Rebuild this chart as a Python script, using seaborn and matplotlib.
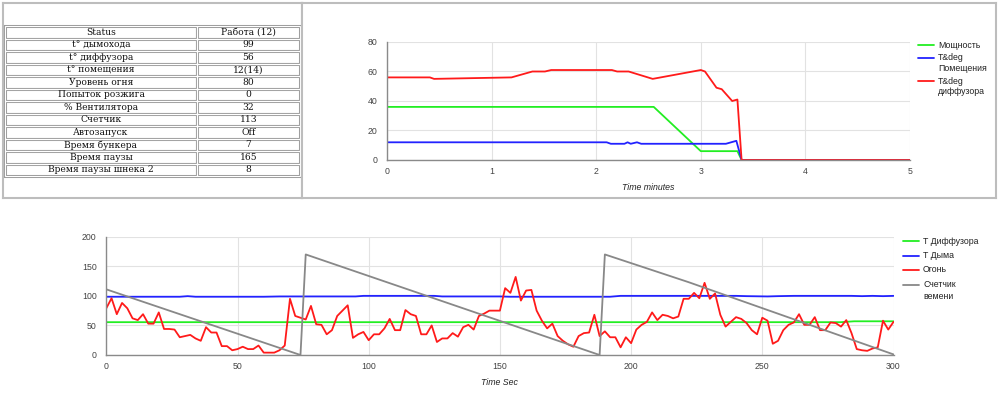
import numpy as np
import pandas as pd
import matplotlib
matplotlib.use("Agg")
import matplotlib.pyplot as plt
from matplotlib.lines import Line2D
import seaborn as sns

# status table
status_names = ["Status", "t° дымохода", "t° диффузора", "t° помещения", "Уровень огня",
                "Попыток розжига", "% Вентилятора", "Счетчик", "Автозапуск",
                "Время бункера", "Время паузы", "Время паузы шнека 2"]
status_values = ["Работа (12)", "99", "56", "12(14)", "80", "0", "32", "113", "Off",
                 "7", "165", "8"]

# top chart, time in minutes
power_t = [0, 2.55, 3.0, 3.35, 3.39, 5]
power_v = [36, 36, 6, 6, 0, 0]
room_t = [0, 2.10, 2.14, 2.27, 2.30, 2.33, 2.39, 2.43, 3.24, 3.34, 3.39, 5]
room_v = [12, 12, 11, 11, 12, 11, 12, 11, 11, 13, 0, 0]
diff_t = [0, 0.41, 0.45, 1.19, 1.39, 1.51, 1.57, 2.15, 2.2, 2.31, 2.54, 3.0, 3.04,
          3.15, 3.2, 3.3, 3.35, 3.39, 5]
diff_v = [56, 56, 55, 56, 60, 60, 61, 61, 60, 60, 55, 61, 60, 49, 48, 40, 41, 0, 0]

# bottom chart, time in seconds
sec = np.arange(0, 301, 2)
fire = [
    79, 96, 69, 88, 79, 62, 59, 69, 53, 53,
    72, 44, 44, 43, 30, 32, 34, 28, 24, 47,
    38, 38, 15, 15, 8, 10, 14, 10, 10, 16,
    4, 4, 4, 8, 16, 95, 66, 63, 60, 83,
    52, 51, 35, 42, 66, 75, 84, 29, 35, 39,
    25, 35, 35, 45, 61, 42, 42, 76, 69, 66,
    35, 35, 50, 22, 28, 28, 37, 31, 47, 51,
    43, 66, 70, 75, 75, 75, 113, 105, 132, 92,
    109, 110, 75, 58, 45, 53, 32, 24, 18, 14,
    32, 37, 38, 68, 32, 40, 30, 30, 13, 30,
    20, 43, 51, 56, 72, 59, 68, 66, 62, 65,
    95, 95, 105, 96, 122, 95, 104, 68, 48, 56,
    64, 61, 54, 42, 35, 63, 58, 19, 24, 42,
    51, 55, 69, 51, 51, 64, 42, 42, 55, 54,
    48, 59, 37, 10, 8, 7, 11, 13, 58, 43,
    56,
]
diffuser_t = [0, 280, 285, 300]
diffuser_v = [55.5, 55.5, 57, 57]
smoke_t = [0, 28, 31, 34, 60, 66, 95, 98, 125, 128, 150, 154, 192, 196, 240, 244,
           252, 256, 262, 284, 288, 292, 296, 300]
smoke_v = [98.5, 98.5, 99.5, 98.5, 98.5, 99, 99, 100, 100, 99, 99, 98.5, 98.5, 100,
           100, 99.5, 99, 99.5, 100, 100, 99.5, 100, 99.5, 100]
counter_t = [0, 74, 76, 188, 190, 222, 300]
counter_v = [111, 0, 170, 0, 170, 123, 1]

sns.set_style("white")
plt.rcParams["font.family"] = ["Liberation Sans", "DejaVu Sans"]

W, H = 1000, 395
fig = plt.figure(figsize=(10, 3.95), dpi=100)


def box(x0, y0, x1, y1):
    # pixel box -> figure fraction
    return [x0 / W, 1 - y1 / H, (x1 - x0) / W, (y1 - y0) / H]


def panel(rect):
    ax = fig.add_axes(rect)
    ax.set_xticks([])
    ax.set_yticks([])
    for s in ax.spines.values():
        s.set_color("#bdbdbd")
        s.set_linewidth(1.5)
    return ax


def style_chart(ax, xticks, yticks, xlabel):
    ax.set_xticks(xticks)
    ax.set_yticks(yticks)
    ax.set_xlim(xticks[0], xticks[-1])
    ax.set_ylim(yticks[0], yticks[-1])
    ax.grid(True, color="#e2e2e2", lw=0.8)
    ax.set_axisbelow(True)
    for side in ["top", "right"]:
        ax.spines[side].set_visible(False)
    for side in ["left", "bottom"]:
        ax.spines[side].set_color("#8a8a8a")
        ax.spines[side].set_linewidth(1)
    ax.tick_params(axis="both", length=0, labelsize=6.3, colors="#444444")
    ax.tick_params(axis="y", pad=7)
    ax.tick_params(axis="x", pad=5)
    ax.set_xlabel(xlabel, fontsize=6.3, style="italic", color="#222222", labelpad=5)
    ax.set_ylabel("")


def legend_keys(entries, x, ys, text_dx, line_h):
    for (label, color), y in zip(entries, ys):
        fig.add_artist(Line2D([x / W, (x + 16) / W], [1 - y / H, 1 - y / H],
                              color=color, lw=1.3))
        for i, part in enumerate(label.split("\n")):
            fig.text((x + text_dx) / W, 1 - (y + i * line_h) / H, part,
                     fontsize=6.3, color="#222222", va="center", ha="left")


# left panel with table
ax_tab = panel(box(3, 3, 302, 198))
cells = [[n, v] for n, v in zip(status_names, status_values)]
tb = [(5 - 3) / 299, (198 - 176) / 195, (300 - 5) / 299, (176 - 26) / 195]
t1 = ax_tab.table(cellText=cells, cellLoc="center", bbox=tb, colWidths=[192, 103])
t1.auto_set_font_size(False)
t1.set_fontsize(6.6)
for cell in t1.get_celld().values():
    cell.set_edgecolor("#9a9a9a")
    cell.set_linewidth(2.2)
    cell.get_text().set_fontfamily("DejaVu Serif")
    cell.get_text().set_color("#111111")
t2 = ax_tab.table(cellText=[["", ""] for _ in cells], bbox=tb, colWidths=[192, 103])
for cell in t2.get_celld().values():
    cell.set_edgecolor("white")
    cell.set_facecolor("none")
    cell.set_linewidth(0.8)

# right panel with top chart
panel(box(302, 3, 996, 198))
ax1 = fig.add_axes(box(387, 42, 910, 160))
sns.lineplot(x=power_t, y=power_v, ax=ax1, color="#22ee22", lw=1.3)
sns.lineplot(x=room_t, y=room_v, ax=ax1, color="#2222ff", lw=1.3)
sns.lineplot(x=diff_t, y=diff_v, ax=ax1, color="#ff1a1a", lw=1.3)
style_chart(ax1, [0, 1, 2, 3, 4, 5], [0, 20, 40, 60, 80], "Time minutes")
legend_keys([("Мощность", "#22ee22"), ("T&deg\nПомещения", "#2222ff"),
             ("T&deg\nдиффузора", "#ff1a1a")], 918, [45, 58, 81], 20, 10.5)

# bottom chart
ax2 = fig.add_axes(box(106.3, 236.7, 893.5, 355))
sns.lineplot(x=diffuser_t, y=diffuser_v, ax=ax2, color="#22ee22", lw=1.3)
sns.lineplot(x=smoke_t, y=smoke_v, ax=ax2, color="#2222ff", lw=1.3)
sns.lineplot(x=sec, y=fire, ax=ax2, color="#ff1a1a", lw=1.3)
sns.lineplot(x=counter_t, y=counter_v, ax=ax2, color="#888888", lw=1.3)
style_chart(ax2, [0, 50, 100, 150, 200, 250, 300], [0, 50, 100, 150, 200], "Time Sec")
legend_keys([("T Диффузора", "#22ee22"), ("T Дыма", "#2222ff"), ("Огонь", "#ff1a1a"),
             ("Счетчик\nвемени", "#888888")], 903, [241, 255.5, 270, 284.5], 20, 12)

fig.savefig("out.png", dpi=100)
